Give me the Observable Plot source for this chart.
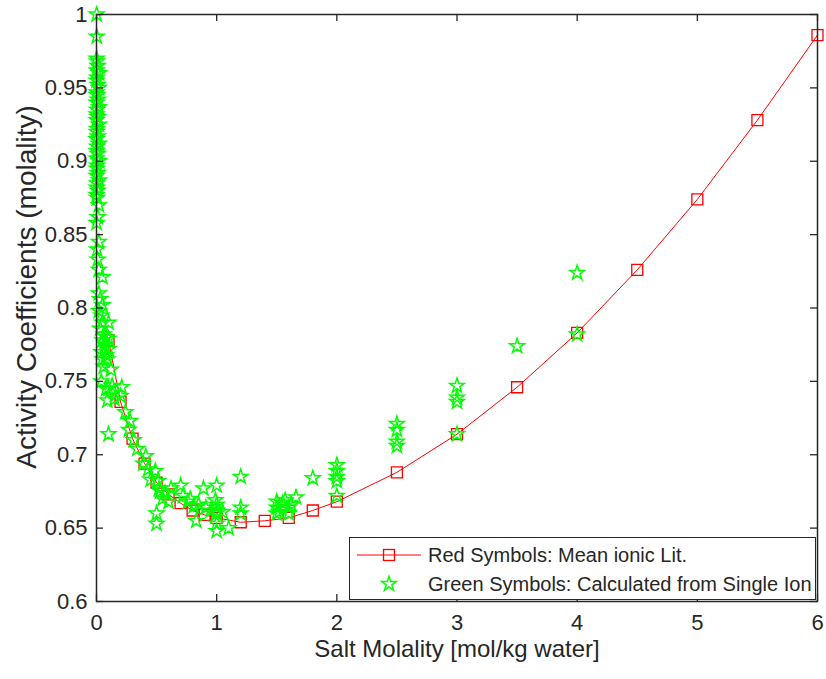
<!DOCTYPE html>
<html>
<head>
<meta charset="utf-8">
<script src="https://cdn.jsdelivr.net/npm/d3@7"></script>
<script src="https://cdn.jsdelivr.net/npm/@observablehq/plot@0.6"></script>
<style>
  body { margin: 0; background: #fff; }
  #wrap { position: relative; width: 826px; height: 679px; font-family: "Liberation Sans", Arial, sans-serif; }
  #legend { position: absolute; left: 349px; top: 537px; width: 467px; height: 63px; border: 1px solid #262626; background: #fff; box-sizing: border-box; }
  #legend svg { position: absolute; left: 0; top: 0; }
  .lt { position: absolute; left: 78px; font-size: 20px; line-height: 20px; color: #262626; white-space: nowrap; }
</style>
</head>
<body>
<div id="wrap"></div>
<script>
// Red: mean ionic activity coefficients from literature
const redX = [0.1, 0.2, 0.3, 0.4, 0.5, 0.6, 0.7, 0.8, 0.9, 1.0, 1.2, 1.4, 1.6, 1.8, 2.0, 2.5, 3.0, 3.5, 4.0, 4.5, 5.0, 5.5, 6.0];
const redY = [0.778, 0.736, 0.711, 0.694, 0.681, 0.673, 0.667, 0.662, 0.659, 0.657, 0.654, 0.655, 0.657, 0.662, 0.668, 0.688, 0.714, 0.746, 0.783, 0.826, 0.874, 0.928, 0.986];

// Green: calculated from single ion activity coefficients
const greenX = [
  0.001, 0.002,
  0.001, 0.005, 0.01, 0.002, 0.02, 0.005, 0.001, 0.01, 0.02, 0.002,
  0.005, 0.01, 0.001, 0.02, 0.005, 0.002, 0.01, 0.001, 0.02, 0.005,
  0.002, 0.01, 0.001, 0.02, 0.005, 0.002, 0.01, 0.001, 0.02, 0.005,
  0.002, 0.01, 0.001, 0.02, 0.005, 0.002, 0.01, 0.001,
  0.005, 0.01, 0.001, 0.02, 0.005, 0.01, 0.02, 0.02, 0.05,
  0.02, 0.03, 0.05, 0.02, 0.04, 0.05, 0.03, 0.06, 0.05, 0.07, 0.04, 0.08, 0.05, 0.06, 0.04, 0.08,
  0.1, 0.1, 0.08, 0.1, 0.09, 0.12, 0.1, 0.09, 0.1,
  0.13, 0.21, 0.15, 0.2, 0.24, 0.28, 0.27, 0.31, 0.34, 0.41, 0.39, 0.43, 0.49, 0.45, 0.51, 0.52, 0.53, 0.57, 0.62, 0.5, 0.5, 0.55, 0.6,
  0.7, 0.72, 0.76, 0.78, 0.81, 0.83, 0.91, 0.89, 1.0, 0.99, 1.0, 1.0, 1.0, 1.0, 1.0, 1.1, 1.2, 1.2, 1.2, 0.95, 0.85, 1.05,
  1.5, 1.5, 1.52, 1.57, 1.6, 1.66, 1.6, 1.5, 1.55, 1.62,
  1.8, 2.0, 2.0, 2.0, 2.0, 2.0,
  2.5, 2.5, 2.5, 2.5,
  3.0, 3.0, 3.0, 3.0,
  3.5, 4.0, 4.0
];
const greenY = [
  1.0, 0.985,
  0.970, 0.968, 0.965, 0.962, 0.960, 0.957, 0.955, 0.952, 0.950, 0.947,
  0.945, 0.942, 0.940, 0.937, 0.935, 0.932, 0.930, 0.928, 0.925, 0.922,
  0.920, 0.917, 0.915, 0.912, 0.910, 0.907, 0.905, 0.902, 0.900, 0.897,
  0.895, 0.892, 0.890, 0.887, 0.885, 0.882, 0.880, 0.877,
  0.875, 0.862, 0.858, 0.845, 0.840, 0.833, 0.826, 0.870, 0.821,
  0.810, 0.806, 0.802, 0.798, 0.795, 0.790, 0.786, 0.782, 0.778, 0.775, 0.770, 0.768, 0.765, 0.760, 0.750, 0.745,
  0.790, 0.779, 0.780, 0.772, 0.765, 0.758, 0.745, 0.737, 0.714,
  0.747, 0.746, 0.738, 0.740, 0.729, 0.723, 0.717, 0.710, 0.704, 0.699, 0.694, 0.690, 0.689, 0.683, 0.682, 0.677, 0.675, 0.674, 0.677, 0.660, 0.653, 0.670, 0.668,
  0.679, 0.672, 0.668, 0.670, 0.665, 0.655, 0.664, 0.677, 0.679, 0.669, 0.666, 0.662, 0.660, 0.653, 0.648, 0.650, 0.685, 0.664, 0.660, 0.662, 0.666, 0.661,
  0.668, 0.664, 0.661, 0.669, 0.664, 0.671, 0.660, 0.660, 0.667, 0.666,
  0.684, 0.693, 0.689, 0.685, 0.682, 0.672,
  0.721, 0.717, 0.709, 0.706,
  0.747, 0.739, 0.736, 0.714,
  0.774, 0.824, 0.782
];

const xTicks = [0, 1, 2, 3, 4, 5, 6];
const yTicks = [0.6, 0.65, 0.7, 0.75, 0.8, 0.85, 0.9, 0.95, 1];

const red = redX.map((x, i) => ({x, y: redY[i]}));
const green = greenX.map((x, i) => ({x, y: greenY[i]}));

const W = 826, H = 679, mL = 96, mR = 9, mT = 14, mB = 78;
const pw = W - mL - mR, ph = H - mT - mB, tl = 7;
const axisColor = "#262626";
const fmt = d => String(+d.toFixed(2));

const chart = Plot.plot({
  width: W, height: H,
  marginLeft: mL, marginRight: mR, marginTop: mT, marginBottom: mB,
  style: {fontFamily: "'Liberation Sans', Arial, sans-serif", fontSize: "22px", color: axisColor, background: "#fff"},
  x: {domain: [0, 6]},
  y: {domain: [0.6, 1]},
  marks: [
    Plot.line(red, {x: "x", y: "y", stroke: "#ff0000", strokeWidth: 1}),
    Plot.dot(red, {x: "x", y: "y", symbol: "square", r: 6.2, stroke: "#ff0000", fill: "none", strokeWidth: 1.3}),
    Plot.dot(green, {x: "x", y: "y", symbol: "star", r: 4.6, stroke: "#00ff00", fill: "none", strokeWidth: 1.5}),
    Plot.tickX(xTicks, {x: d => d, insetTop: ph - tl, stroke: axisColor, strokeWidth: 1.3}),
    Plot.tickX(xTicks, {x: d => d, insetBottom: ph - tl, stroke: axisColor, strokeWidth: 1.3}),
    Plot.tickY(yTicks, {y: d => d, insetRight: pw - tl, stroke: axisColor, strokeWidth: 1.3}),
    Plot.tickY(yTicks, {y: d => d, insetLeft: pw - tl, stroke: axisColor, strokeWidth: 1.3}),
    Plot.axisX(xTicks, {tickSize: 0, tickPadding: 13, fontSize: 22, fill: axisColor, label: null, tickFormat: fmt}),
    Plot.axisY(yTicks, {tickSize: 0, tickPadding: 9, fontSize: 22, fill: axisColor, label: null, tickFormat: fmt}),
    Plot.frame({stroke: axisColor, strokeWidth: 1.5}),
    Plot.text(["Salt Molality [mol/kg water]"], {frameAnchor: "bottom", dy: 55, fontSize: 24, fill: axisColor}),
    Plot.text(["Activity Coefficients (molality)"], {frameAnchor: "left", textAnchor: "middle", dx: -69, dy: -21, rotate: -90, fontSize: 28, fill: axisColor})
  ]
});

const wrap = document.getElementById("wrap");
wrap.appendChild(chart);

// Legend (inside the axes, lower right)
const legend = document.createElement("div");
legend.id = "legend";
legend.innerHTML = `
  <svg width="78" height="63">
    <line x1="7" x2="71" y1="17" y2="17" stroke="#ff0000" stroke-width="1"/>
    <rect x="33.5" y="11.5" width="11" height="11" fill="none" stroke="#ff0000" stroke-width="1.3"/>
    <path transform="translate(39,46)" d="${d3.symbol(d3.symbolStar, Math.PI * 4.6 * 4.6)()}" fill="none" stroke="#00ff00" stroke-width="1.5"/>
  </svg>
  <div class="lt" style="top:7px">Red Symbols: Mean ionic Lit.</div>
  <div class="lt" style="top:36px">Green Symbols: Calculated from Single Ion</div>`;
wrap.appendChild(legend);
</script>
</body>
</html>
